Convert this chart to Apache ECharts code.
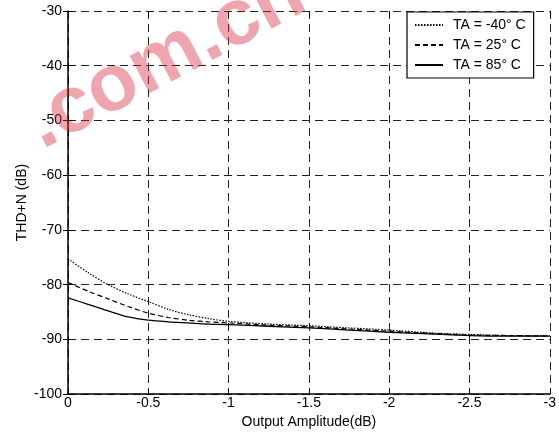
<!DOCTYPE html>
<html>
<head>
<meta charset="utf-8">
<script src="https://cdn.jsdelivr.net/npm/echarts@6/dist/echarts.min.js"></script>
<style>
html,body{margin:0;padding:0;background:#fff;}
#chart{width:559px;height:434px;}
</style>
</head>
<body>
<div id="chart"></div>
<script>
// Output amplitude (dB)
var amplitude = [0, -0.125, -0.25, -0.375, -0.5, -0.625, -0.75, -0.875, -1, -1.25, -1.5, -1.75, -2, -2.25, -2.5, -2.75, -3];
// THD+N (dB) per temperature
var thdMinus40 = [-75.3, -77.8, -80.0, -81.7, -83.1, -84.5, -85.5, -86.2, -86.7, -87.2, -87.5, -87.9, -88.3, -88.8, -89.1, -89.3, -89.3];
var thd25 = [-79.6, -81.2, -82.6, -84.0, -85.2, -86.0, -86.5, -86.8, -87.0, -87.4, -87.7, -88.1, -88.5, -88.9, -89.2, -89.3, -89.4];
var thd85 = [-82.4, -83.6, -84.8, -85.9, -86.5, -86.8, -87.0, -87.2, -87.3, -87.6, -87.9, -88.3, -88.7, -89.0, -89.3, -89.4, -89.4];
var seriesNames = ['TA = -40° C', 'TA = 25° C', 'TA = 85° C'];
var xTitle = 'Output Amplitude(dB)';
var yTitle = 'THD+N (dB)';

function pairs(xs, ys) { return xs.map(function (x, i) { return [x, ys[i]]; }); }

var font = 'Arial, "Liberation Sans", sans-serif';
var gridDash = { color: '#222', type: [8, 5], width: 1 };

var chart = echarts.init(document.getElementById('chart'), null, { renderer: 'canvas' });
chart.setOption({
  animation: false,
  backgroundColor: '#fff',
  textStyle: { fontFamily: font },
  grid: { left: 68, right: 8, top: 11, bottom: 31, containLabel: false },
  xAxis: [{
    type: 'value', min: -3, max: 0, interval: 0.5, inverse: true,
    name: xTitle, nameLocation: 'middle', nameGap: 16,
    nameTextStyle: { fontSize: 14, color: '#000', fontFamily: font },
    axisLine: { show: true, onZero: false, lineStyle: { color: '#000', width: 1.5 } },
    axisTick: { show: true, inside: true, length: 5, lineStyle: { color: '#000' } },
    axisLabel: { fontSize: 14, color: '#000', margin: 2, fontFamily: font },
    splitLine: { show: true, lineStyle: gridDash }
  }, {
    type: 'value', min: -3, max: 0, interval: 0.5, inverse: true, position: 'top',
    axisLine: { show: false }, axisLabel: { show: false },
    axisTick: { show: true, inside: true, length: 5, lineStyle: { color: '#000' } },
    splitLine: { show: false }
  }],
  yAxis: [{
    type: 'value', min: -100, max: -30, interval: 10,
    name: yTitle, nameLocation: 'middle', nameGap: 39, nameRotate: 90, nameMoveOverlap: false,
    nameTextStyle: { fontSize: 14, color: '#000', fontFamily: font },
    axisLine: { show: true, onZero: false, lineStyle: { color: '#000', width: 1.5 } },
    axisTick: { show: true, inside: true, length: 5, lineStyle: { color: '#000' } },
    axisLabel: { fontSize: 14, color: '#000', margin: 6, fontFamily: font },
    splitLine: { show: true, lineStyle: gridDash }
  }, {
    type: 'value', min: -100, max: -30, interval: 10, position: 'right',
    axisLine: { show: false }, axisLabel: { show: false },
    axisTick: { show: true, inside: true, length: 5, lineStyle: { color: '#000' } },
    splitLine: { show: false }
  }],
  legend: {
    orient: 'vertical', left: 407, top: 12,
    padding: [6, 8, 6, 7], itemGap: 6, itemWidth: 28, itemHeight: 10,
    backgroundColor: '#fff', borderColor: '#000', borderWidth: 1.2,
    itemStyle: { opacity: 0, borderWidth: 0 },
    textStyle: { fontSize: 14, color: '#000', fontFamily: font, padding: [0, 0, 0, 5] },
    data: seriesNames
  },
  series: [
    { name: seriesNames[0], type: 'line', data: pairs(amplitude, thdMinus40), symbol: 'none', smooth: 0.3,
      lineStyle: { color: '#000', width: 1.2, type: [1.5, 1.5] }, itemStyle: { color: '#000' } },
    { name: seriesNames[1], type: 'line', data: pairs(amplitude, thd25), symbol: 'none', smooth: 0.3,
      lineStyle: { color: '#000', width: 1.2, type: [5, 3] }, itemStyle: { color: '#000' } },
    { name: seriesNames[2], type: 'line', data: pairs(amplitude, thd85), symbol: 'none', smooth: 0.3,
      lineStyle: { color: '#000', width: 1.3, type: 'solid' }, itemStyle: { color: '#000' } }
  ],
  graphic: [{
    type: 'text', x: 32, y: 130, rotation: 0.485, z: 100, silent: true,
    style: { text: '.com.cn', fill: 'rgba(215,40,60,0.42)', font: 'bold 80px Arial, "Liberation Sans", sans-serif',
      textAlign: 'left', textVerticalAlign: 'middle' }
  }]
});
</script>
</body>
</html>
